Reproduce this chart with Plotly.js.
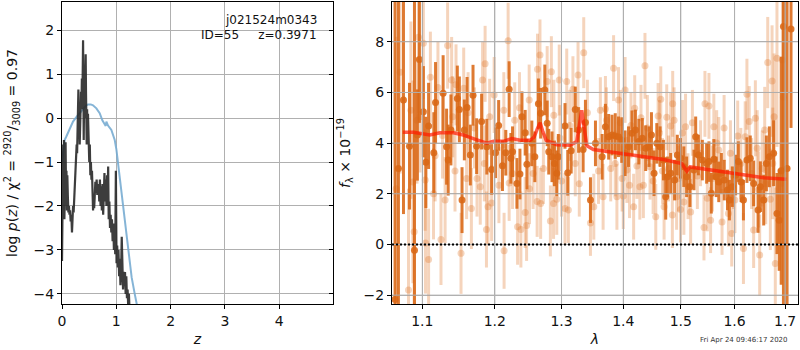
<!DOCTYPE html>
<html>
<head>
<meta charset="utf-8">
<script src="https://cdn.plot.ly/plotly-3.0.1.min.js"></script>
<style>html,body{margin:0;padding:0;background:#fff;}#chart{width:800px;height:350px;}</style>
</head>
<body>
<div id="chart"></div>
<script>
// ---------- left panel: p(z) ----------
const zPz = [0.000,0.008,0.015,0.022,0.030,0.036,0.044,0.050,0.058,0.066,0.074,0.082,0.090,0.098,0.108,0.118,0.128,0.138,0.148,0.160,0.172,0.184,0.194,0.204,0.214,0.224,0.234,0.244,0.254,0.262,0.270,0.278,0.286,0.294,0.302,0.310,0.318,0.326,0.334,0.342,0.350,0.358,0.366,0.374,0.382,0.388,0.394,0.400,0.407,0.414,0.422,0.430,0.436,0.442,0.448,0.455,0.462,0.470,0.478,0.486,0.494,0.502,0.512,0.522,0.532,0.542,0.552,0.562,0.572,0.582,0.592,0.602,0.614,0.626,0.638,0.650,0.662,0.674,0.686,0.698,0.710,0.722,0.734,0.746,0.758,0.770,0.782,0.794,0.806,0.818,0.830,0.842,0.850,0.860,0.872,0.884,0.896,0.908,0.920,0.932,0.944,0.956,0.968,0.980,0.992,1.004,1.016,1.028,1.040,1.052,1.064,1.076,1.088,1.100,1.112,1.124,1.136,1.148,1.160,1.172,1.184,1.196,1.208,1.220,1.232,1.244];
const logPz = [-3.25,-1.6,-2.3,-0.6,-1.9,-0.5,-2.3,-1.2,-2.2,-0.55,-1.7,-1.2,-2.1,-1.3,-1.8,-2.15,-2.0,-2.2,-2.1,-2.35,-2.2,-2.6,-2.3,-2.0,-2.15,-1.85,-1.9,-1.5,-1.1,-1.0,-0.6,-0.8,-0.2,-0.5,0.65,-0.3,0.1,-0.6,0.2,-0.3,0.6,0.3,0.9,0.2,1.5,1.77,0.8,-0.5,0.4,0.0,1.1,0.3,1.45,0.6,-0.3,-0.6,0.2,-0.4,0.1,-0.7,-0.3,-1.0,-0.6,-1.3,-1.0,-1.4,-1.2,-1.7,-2.1,-1.75,-2.05,-1.8,-1.45,-1.7,-1.4,-1.75,-1.6,-1.5,-1.9,-1.4,-2.0,-1.55,-2.1,-1.5,-2.2,-1.6,-1.25,-1.9,-1.4,-2.0,-1.3,-1.7,-1.1,-2.3,-1.9,-2.5,-2.2,-2.6,-2.3,-2.8,-2.4,-3.0,-2.5,-3.1,-1.2,-3.3,-2.9,-3.4,-3.0,-3.6,-3.2,-3.8,-3.5,-2.7,-3.7,-3.9,-3.5,-3.8,-3.5,-4.0,-3.6,-4.1,-3.9,-4.3,-4.0,-4.4];
const zBlue = [0.005,0.018,0.049,0.08,0.141,0.203,0.264,0.326,0.387,0.44,0.479,0.53,0.571,0.633,0.694,0.743,0.786,0.805,0.817,0.83,0.848,0.909,0.971,1.002,1.032,1.094,1.155,1.217,1.282,1.339,1.377,1.42];
const logBlue = [-1.0,-0.88,-0.5,-0.42,-0.23,-0.08,0.02,0.11,0.22,0.28,0.31,0.31,0.29,0.22,0.11,-0.05,-0.14,-0.18,-0.08,-0.12,-0.17,-0.27,-0.5,-0.72,-1.03,-1.6,-2.3,-2.9,-3.62,-4.0,-4.2,-4.5];
const zTicks = [0,1,2,3,4];
const pzTicks = [-4,-3,-2,-1,0,1,2];

// ---------- right panel: spectrum ----------
const lamDark = [1.0646,1.0689,1.0754,1.0832,1.0897,1.0935,1.0962,1.1014,1.1047,1.1083,1.1153,1.1176,1.1278,1.1325,1.1347,1.1384,1.1472,1.15,1.1537,1.1569,1.1607,1.1652,1.169,1.1741,1.1811,1.1885,1.1954,1.201,1.2055,1.211,1.2159,1.2208,1.2233,1.2258,1.2322,1.2367,1.2397,1.2445,1.2471,1.2545,1.259,1.2644,1.2678,1.2742,1.2778,1.2802,1.2852,1.289,1.2926,1.295,1.3054,1.3097,1.3151,1.3216,1.3269,1.3341,1.3378,1.3459,1.354,1.3649,1.3703,1.3756,1.3812,1.3865,1.3919,1.3974,1.403,1.4088,1.4147,1.4205,1.4263,1.4323,1.4381,1.4439,1.4481,1.4526,1.4574,1.4632,1.4691,1.4731,1.4761,1.4819,1.4889,1.4937,1.4995,1.5055,1.5105,1.5165,1.5239,1.527,1.532,1.5393,1.5472,1.5515,1.5559,1.5607,1.5651,1.5699,1.5748,1.5803,1.5864,1.5901,1.5956,1.602,1.6072,1.6125,1.6171,1.6239,1.6304,1.637,1.6457,1.6503,1.6569,1.6622,1.6682,1.6767,1.6835,1.688,1.692,1.6966,1.704,1.7121];
const fDark = [-2.17,3.0,5.7,3.88,-0.23,4.32,7.3,5.24,3.24,4.68,3.62,5.6,5.97,3.86,3.33,4.52,5.76,5.33,1.75,4.52,5.41,3.53,5.89,3.88,4.85,3.86,2.96,3.62,4.7,3.11,3.62,6.13,3.4,3.66,2.41,2.78,5.04,4.41,3.17,3.99,3.46,5.55,5.18,6.1,4.78,3.66,3.46,3.2,2.81,3.46,4.68,2.83,3.7,5.33,4.52,3.75,4.81,1.75,3.99,3.46,4.65,4.25,4.32,4.28,4.25,4.12,3.6,3.86,4.39,4.52,4.06,4.19,3.8,3.86,4.32,2.81,3.99,3.86,3.33,1.88,2.67,2.81,2.54,3.53,3.4,3.07,2.67,2.28,2.94,4.25,3.53,3.33,3.2,3.27,2.02,3.36,2.67,2.47,2.81,2.54,2.15,1.75,2.28,2.74,3.27,2.47,1.75,3.33,3.4,2.41,1.36,2.28,1.75,3.2,3.46,3.6,1.22,0.96,2.91,8.6,3.0,8.5];
const eDark = [15,12,4.5,2.5,12,1.8,2.5,1.8,1.8,1.7,1.6,1.6,1.5,1.5,1.4,1.4,1.3,1.3,1.3,1.2,1.2,1.2,1.2,1.1,1.1,1.1,1.0,1.0,1.0,1.0,0.9,1.1,1.0,1.0,1.0,1.0,1.0,0.9,1.0,0.9,1.0,1.0,1.0,1.0,0.9,0.9,1.0,0.9,0.9,0.9,0.9,0.9,0.9,0.9,0.9,0.9,0.9,0.9,0.9,0.9,0.9,0.9,0.8,0.9,0.8,0.9,0.9,0.8,0.9,0.8,0.9,0.8,0.9,0.8,0.9,0.9,0.8,0.8,0.8,0.9,0.8,0.8,0.8,0.8,0.8,0.8,0.8,0.8,0.8,0.8,0.8,0.8,0.8,0.8,0.8,0.8,0.8,0.8,0.8,0.8,0.8,0.8,0.8,0.8,0.8,0.8,0.8,0.9,0.9,0.9,0.9,1.0,1.0,1.1,1.2,1.3,1.6,2.0,4.5,12,15,3.9];

const lamLight = [1.066,1.0711,1.0819,1.0876,1.0893,1.0949,1.097,1.1014,1.1038,1.1042,1.1083,1.1107,1.1149,1.1208,1.1249,1.1305,1.1339,1.1394,1.1408,1.1454,1.1523,1.156,1.1621,1.1667,1.1746,1.1792,1.1825,1.1861,1.188,1.1902,1.1926,1.1954,1.2059,1.2134,1.2193,1.2208,1.2258,1.2332,1.2381,1.2445,1.2466,1.2505,1.2564,1.2625,1.263,1.2668,1.2678,1.2778,1.2827,1.2842,1.2876,1.2926,1.2964,1.2975,1.3054,1.3081,1.3107,1.3179,1.3216,1.326,1.3351,1.3459,1.3513,1.3665,1.3703,1.3838,1.3865,1.3893,1.392,1.4,1.403,1.406,1.4105,1.4175,1.4193,1.4281,1.4341,1.4369,1.4456,1.4556,1.4597,1.4644,1.4674,1.4702,1.4749,1.4819,1.4849,1.4855,1.4925,1.4995,1.5055,1.5086,1.5178,1.5301,1.5423,1.5441,1.5485,1.5515,1.5546,1.5607,1.5699,1.5761,1.5882,1.5945,1.6006,1.606,1.6171,1.6205,1.6239,1.6284,1.637,1.6404,1.6469,1.6489,1.6589,1.6649,1.6702,1.6736,1.6777,1.6801,1.6835,1.6946,1.6966,
  1.085,1.093,1.117,1.127,1.144,1.160,1.171,1.185,1.199,1.213,1.229,1.236,1.251,1.272,1.288,1.300,1.313,1.328,1.341,1.359,1.362,1.372,1.379,1.395,1.398,1.413,1.423,1.430,1.441,1.451,1.462,1.478,1.488,1.496,1.503,1.513,1.521,1.536,1.558,1.566,1.580,1.592,1.598,1.612,1.633,1.644,1.654,1.661,1.675];
const fLight = [2.2,6.8,-1.8,2.47,0.5,8.18,5.04,7.94,2.54,0.06,-0.59,6.6,2.0,6.2,0.2,1.75,7.85,6.49,5.04,6.3,-0.35,6.17,5.2,1.42,2.6,2.28,6.49,7.13,0.59,1.49,5.04,1.64,2.34,-0.25,8.04,2.43,2.8,0.7,0.59,1.26,0.75,5.7,2.8,1.7,6.92,7.48,1.62,6.43,0.93,6.82,1.62,1.78,6.49,4.2,1.42,6.43,1.36,6.13,3.2,6.69,7.57,0.85,1.49,1.88,5.35,6.96,3.2,1.88,5.7,1.91,6.1,2.94,2.34,1.49,5.38,2.28,2.34,7.05,3.07,1.09,5.07,5.73,2.9,1.49,5.02,4.68,1.16,5.55,1.88,1.38,1.68,4.65,1.28,2.7,0.67,5.55,1.82,5.47,0.96,4.65,3.73,0.89,1.22,0.43,1.75,4.28,-0.16,4.25,5.93,4.85,0.57,4.98,2.17,-0.42,4.52,7.18,1.78,6.45,5.04,-0.75,7.35,7.28,5.81,
  5.3,4.9,3.5,4.3,2.9,2.6,4.6,3.2,5.9,5.3,4.9,5.4,2.2,3.0,5.1,2.5,4.7,2.4,5.2,2.9,5.3,4.9,3.0,4.8,2.6,4.7,3.1,5.0,4.6,2.5,4.4,3.0,4.9,2.6,4.4,2.3,4.8,3.6,2.6,4.0,4.6,3.6,2.7,3.2,2.8,3.8,3.0,2.4,3.2];
const eLight = [6,4,4,4,4,3,2.2,2.2,2,2,2,1.8,1.8,1.8,1.8,1.7,1.7,1.7,1.6,1.6,1.6,1.6,1.6,1.6,1.5,1.5,1.5,1.5,1.5,1.5,1.5,1.5,1.5,1.5,1.5,1.5,1.4,1.5,1.5,1.4,1.4,1.4,1.4,1.4,1.4,1.4,1.4,1.4,1.4,1.4,1.4,1.4,1.4,1.3,1.4,1.3,1.3,1.3,1.3,1.3,1.4,1.3,1.3,1.3,1.3,1.3,1.3,1.3,1.3,1.3,1.3,1.3,1.3,1.3,1.3,1.3,1.3,1.3,1.3,1.3,1.3,1.3,1.3,1.3,1.3,1.3,1.3,1.3,1.3,1.3,1.3,1.3,1.3,1.3,1.3,1.3,1.3,1.3,1.3,1.3,1.3,1.3,1.3,1.3,1.3,1.4,1.4,1.4,1.4,1.4,1.5,1.5,1.5,1.6,1.7,1.8,2.0,2.2,2.5,3.0,3.5,5,6,
  3.5,2.5,1.8,1.7,1.6,1.6,1.6,1.5,1.5,1.5,1.5,1.4,1.4,1.4,1.4,1.4,1.4,1.3,1.3,1.3,1.3,1.3,1.3,1.3,1.3,1.3,1.3,1.3,1.3,1.3,1.3,1.3,1.3,1.3,1.3,1.3,1.3,1.3,1.3,1.3,1.3,1.3,1.3,1.4,1.4,1.5,1.5,1.6,2.2];

const lamModel = [1.0745,1.0882,1.110,1.1235,1.1418,1.1556,1.1694,1.1884,1.198,1.2125,1.2248,1.2371,1.252,1.258,1.263,1.2671,1.2712,1.2763,1.2926,1.3134,1.324,1.3292,1.3319,1.3356,1.34,1.3506,1.3669,1.4,1.4398,1.469,1.5017,1.5109,1.517,1.5605,1.6049,1.6571,1.7024];
const fModel = [4.43,4.43,4.32,4.41,4.41,4.32,4.18,4.0,4.07,4.07,4.18,4.11,4.11,4.24,4.58,4.8,4.45,4.11,3.94,3.92,4.06,4.91,5.3,4.64,3.9,3.75,3.69,3.58,3.45,3.35,3.19,2.9,3.06,2.92,2.79,2.63,2.57];

const lamTicks = [1.1,1.2,1.3,1.4,1.5,1.6,1.7];
const lamTickText = ['1.1','1.2','1.3','1.4','1.5','1.6','1.7'];
const fTicks = [-2,0,2,4,6,8];

const FONT = 'DejaVu Sans, sans-serif';
const GRID = '#b0b0b0';
const darkC = 'rgba(218,104,22,0.88)';
const lightC = 'rgba(222,112,32,0.3)';

const traces = [
  {x: zBlue, y: logBlue, xaxis:'x', yaxis:'y', mode:'lines', line:{color:'rgba(120,172,210,0.9)', width:2}, hoverinfo:'skip'},
  {x: zPz, y: logPz, xaxis:'x', yaxis:'y', mode:'lines', line:{color:'rgba(40,40,40,0.9)', width:2.2}, hoverinfo:'skip'},
  {x: [0], y: [0], xaxis:'x', yaxis:'y3', mode:'markers', marker:{opacity:0, size:1}, hoverinfo:'skip'},
  {x: lamLight, y: fLight, xaxis:'x2', yaxis:'y2', mode:'markers',
   marker:{color:lightC, size:7, line:{width:0}},
   error_y:{type:'data', array:eLight, visible:true, thickness:3, width:0, color:lightC}},
  {x: lamDark, y: fDark, xaxis:'x2', yaxis:'y2', mode:'markers',
   marker:{color:darkC, size:7, line:{width:0}},
   error_y:{type:'data', array:eDark, visible:true, thickness:3, width:0, color:darkC}},
  {x: lamModel, y: fModel, xaxis:'x2', yaxis:'y2', mode:'lines', line:{color:'rgba(255,25,0,0.7)', width:3.5}}
];

const axBase = {
  showgrid:true, gridcolor:GRID, gridwidth:1, zeroline:false,
  showline:true, linecolor:'#000', linewidth:1, mirror:true,
  ticks:'outside', ticklen:4, tickcolor:'#000', tickwidth:1,
  tickfont:{family:FONT, size:14, color:'#111'}, automargin:false
};
const ydom = [1-304/350, 1-2/350];

// grid lines of the spectrum panel drawn above the data (built from the tick arrays)
const gridShapes = [];
lamTicks.forEach(v => gridShapes.push({type:'line', xref:'x2', yref:'y2 domain', x0:v, x1:v, y0:0, y1:1, layer:'above', line:{color:GRID, width:1}}));
fTicks.forEach(v => gridShapes.push({type:'line', xref:'x2 domain', yref:'y2', x0:0, x1:1, y0:v, y1:v, layer:'above', line:{color:GRID, width:1}}));

const layout = {
  width:800, height:350, margin:{l:0,r:0,t:0,b:0},
  paper_bgcolor:'#fff', plot_bgcolor:'#fff', showlegend:false,
  font:{family:FONT, color:'#111'},
  xaxis: Object.assign({}, axBase, {domain:[62/800, 333/800], range:[0,4.99], tickvals:zTicks, anchor:'y',
    title:{text:'<i>z</i>', font:{family:FONT, size:14}, standoff:6}}),
  yaxis: Object.assign({}, axBase, {domain:ydom, range:[-4.23,2.64], tickvals:pzTicks, anchor:'x'}),
  yaxis3: {overlaying:'y', side:'right', anchor:'x', range:[-4.23,2.64], tickvals:pzTicks, showticklabels:false,
    ticks:'inside', ticklen:4, tickcolor:'#000', showgrid:false, zeroline:false, showline:false},
  xaxis2: Object.assign({}, axBase, {domain:[392/800, 798/800], type:'log', range:[Math.log10(1.0607), Math.log10(1.7265)],
    tickvals:lamTicks, ticktext:lamTickText, anchor:'y2',
    title:{text:'<i>λ</i>', font:{family:FONT, size:14}, standoff:6}}),
  yaxis2: Object.assign({}, axBase, {domain:ydom, range:[-2.35,9.57], tickvals:fTicks, anchor:'x2'}),
  shapes: gridShapes.concat([
    {type:'line', xref:'x2 domain', x0:0, x1:1, yref:'y2', y0:0, y1:0, layer:'above',
     line:{color:'#000', width:2, dash:'2px,2px'}}
  ]),
  annotations: [
    {xref:'x domain', yref:'y domain', x:0.948, y:0.940, xanchor:'right', yanchor:'middle', showarrow:false,
     text:'j021524m0343', font:{family:FONT, size:12, color:'#111'}},
    {xref:'x domain', yref:'y domain', x:0.948, y:0.891, xanchor:'right', yanchor:'middle', showarrow:false,
     text:'ID=55\u00a0\u00a0\u00a0\u00a0\u00a0z=0.3971', font:{family:FONT, size:12, color:'#111'}},
    {xref:'paper', yref:'paper', x:12/800, y:1-153/350, textangle:-90, showarrow:false, xanchor:'center', yanchor:'middle',
     text:'log <i>p</i>(<i>z</i>) / χ<sup>2</sup> = <sup>2920</sup>/<sub>3009</sub> = 0.97', font:{family:FONT, size:14, color:'#111'}},
    {xref:'paper', yref:'paper', x:345/800, y:1-153/350, textangle:-90, showarrow:false, xanchor:'center', yanchor:'middle',
     text:'<i>f</i><sub>λ</sub> × 10<sup>−19</sup>', font:{family:FONT, size:14, color:'#111'}},
    {xref:'paper', yref:'paper', x:744/800, y:1-340/350, showarrow:false, xanchor:'center', yanchor:'middle',
     text:'Fri Apr 24 09:46:17 2020', font:{family:FONT, size:7, color:'#333'}}
  ]
};

Plotly.newPlot('chart', traces, layout, {staticPlot:true, displayModeBar:false});
</script>
</body>
</html>
